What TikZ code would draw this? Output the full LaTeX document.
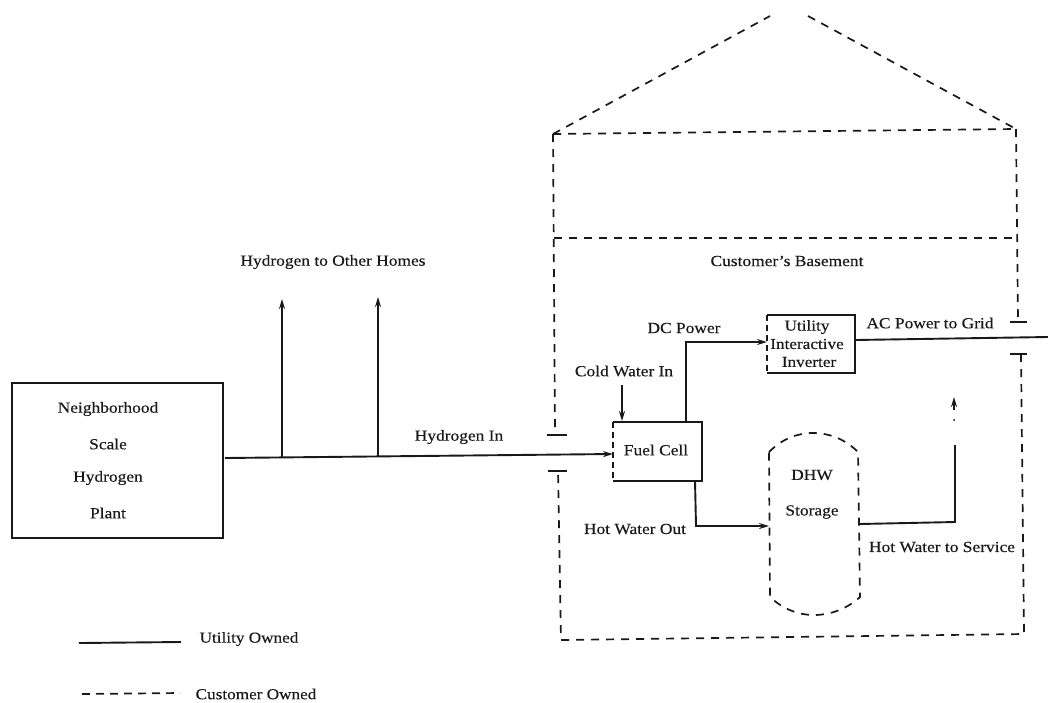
\documentclass[tikz,border=0pt]{standalone}
\usepackage{fontspec}
\setmainfont[FakeStretch=1.13,FakeBold=0.25]{Liberation Serif}
\usetikzlibrary{arrows.meta}
\tikzset{
  solidline/.style={line width=1.9pt,black!90},
  dashline/.style={line width=1.7pt,black!90,dash pattern=on 8pt off 7pt},
  arrowline/.style={solidline,-{Stealth[length=10pt,width=6pt]}},
  lbl/.style={inner sep=0pt,font=\fontsize{15.4}{17}\selectfont,text=black!90},
  smalllbl/.style={inner sep=0pt,font=\fontsize{15.2}{17}\selectfont,text=black!90},
  boxa/.style={inner sep=0pt,anchor=north west}
}
\begin{document}
\begin{tikzpicture}[x=1pt,y=-1pt]
\useasboundingbox (0,0) rectangle (1048,702);
\fill[white] (0,0) rectangle (1048,702);

% boxes
\node[boxa,draw,solidline,minimum width=211pt,minimum height=155pt] (plant) at (11,382) {};
\node[boxa,minimum width=89pt,minimum height=59pt] (fuel) at (613,422) {};
\node[boxa,minimum width=88pt,minimum height=58pt] (inv) at (767,315) {};
\draw[solidline] (fuel.south west) -- (fuel.south east) -- (fuel.north east) -- (fuel.north west);
\draw[dashline,dash pattern=on 6pt off 4pt] (fuel.north west) -- (fuel.south west);
\draw[solidline] (inv.south west) -- (inv.south east) -- (inv.north east) -- (inv.north west);
\draw[dashline,dash pattern=on 6pt off 4pt] (inv.north west) -- (inv.south west);

% DHW tank
\coordinate (tankW) at (769,526);
\coordinate (tankE) at (860,524);
\draw[dashline] (769,452) .. controls (782,439) and (797,433) .. (813,433)
  .. controls (829,433) and (845,439) .. (858,452) -- (860,597)
  .. controls (847,609) and (830,615) .. (814,615)
  .. controls (798,615) and (783,609) .. (770,597) -- cycle;

% text
\node[lbl] (t1) at (108,409) {Neighborhood};
\node[lbl] (t2) at (108,444) {Scale};
\node[lbl] (t3) at (108,478) {Hydrogen};
\node[lbl] (t4) at (108,513) {Plant};
\node[lbl] (hoh) at (333,262) {Hydrogen to Other Homes};
\node[lbl] (hin) at (459,437) {Hydrogen In};
\node[lbl] (base) at (787,261) {Customer's Basement};
\node[lbl] (dc) at (684,328) {DC Power};
\node[lbl] (cold) at (624,371) {Cold Water In};
\node[lbl] (hout) at (635,529) {Hot Water Out};
\node[lbl] (ac) at (930,323) {AC Power to Grid};
\node[lbl] (svc) at (942,547) {Hot Water to Service};
\node[lbl] (fc) at (656,450) {Fuel Cell};
\node[lbl] (dhw) at (812,475) {DHW};
\node[lbl] (sto) at (812,512) {Storage};
\node[smalllbl] (i1) at (807,327) {Utility};
\node[smalllbl] (i2) at (807,344) {Interactive};
\node[smalllbl] (i3) at (809,362) {Inverter};
\node[smalllbl] (uo) at (249,639) {Utility Owned};
\node[smalllbl] (co) at (256,694) {Customer Owned};

% hydrogen lines
\coordinate (hstart) at (225,458);
\coordinate (hend) at (613,454);
\coordinate (b1) at (282,457);
\coordinate (b1t) at (282,299);
\coordinate (b2) at (378,456);
\coordinate (b2t) at (378,297);
\draw[arrowline] (hstart) -- (hend);
\draw[arrowline] (b1) -- (b1t);
\draw[arrowline] (b2) -- (b2t);

% fuel cell connections
\coordinate (coldtop) at (622,385);
\coordinate (dcb) at (686,422);
\coordinate (dcc) at (686,342);
\coordinate (invin) at (767,342);
\coordinate (hob) at (695,481);
\coordinate (hoc) at (696,526);
\draw[arrowline] (coldtop) -- (622,421);
\draw[arrowline] (dcb) -- (dcc) -- (invin);
\draw[arrowline] (hob) -- (hoc) -- (tankW);

% AC line
\coordinate (gridend) at (1048,337);
\coordinate (invout) at (855,340);
\draw[solidline] (invout) -- (gridend);

% service line
\coordinate (svc1) at (955,522);
\coordinate (svc2) at (955,445);
\coordinate (svcdot) at (954,420);
\coordinate (svcA) at (954,410);
\coordinate (svcB) at (954,397);
\draw[solidline] (tankE) -- (svc1) -- (svc2);
\fill (svcdot) circle (1pt);
\draw[arrowline] (svcA) -- (svcB);

% house outline
\coordinate (rl) at (553,134);
\coordinate (rr) at (1016,129);
\coordinate (bl) at (554,238);
\coordinate (br) at (1018,238);
\coordinate (pa) at (770,16);
\coordinate (pb) at (808,16);
\coordinate (tl1) at (555,435);
\coordinate (tl2) at (558,471);
\coordinate (tr1) at (1018,322);
\coordinate (tr2) at (1021,354);
\coordinate (fr) at (1024,634);
\coordinate (fl) at (561,640);
\draw[dashline] (rl) -- (pa);
\draw[dashline] (pb) -- (rr);
\draw[dashline] (rl) -- (rr);
\draw[dashline] (bl) -- (br);
\draw[dashline] (rl) -- (tl1);
\draw[dashline] (rr) -- (tr1);
\draw[dashline] (tr2) -- (fr) -- (fl) -- (tl2);
\draw[solidline,line width=1.4pt] (547,435) -- (567,435);
\draw[solidline,line width=1.4pt] (548,471) -- (567,471);
\draw[solidline,line width=1.4pt] (1010,322) -- (1027,322);
\draw[solidline,line width=1.4pt] (1010,354) -- (1027,354);

% legend
\coordinate (l1a) at (79,643);
\coordinate (l1b) at (181,642);
\coordinate (l2a) at (82,694);
\coordinate (l2b) at (180,693);
\draw[solidline] (l1a) -- (l1b);
\draw[dashline,dash pattern=on 8pt off 6pt] (l2a) -- (l2b);
\end{tikzpicture}
\end{document}
